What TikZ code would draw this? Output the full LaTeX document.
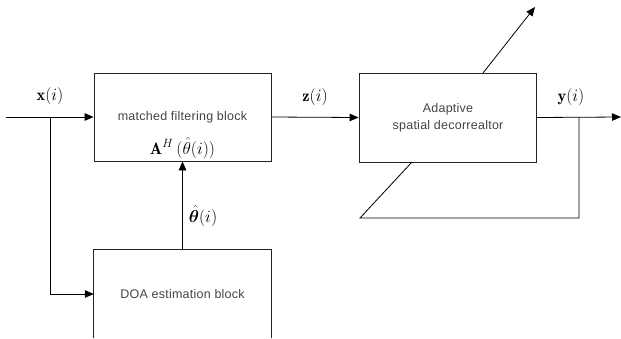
\documentclass[tikz,border=0pt]{standalone}
\usepackage{amsmath,bm}
\usepackage{fontspec}
\newfontfamily\labelsans[LetterSpace=2]{Liberation Sans}
\usetikzlibrary{arrows.meta}
\definecolor{txtgray}{HTML}{444444}
\definecolor{linegray}{HTML}{222222}
\tikzset{
  blk/.style={draw=linegray, line width=0.8pt, fill=white, minimum width=177pt, inner sep=0pt},
  btext/.style={font=\labelsans\fontsize{12.5}{16.5}\selectfont, text=txtgray, align=center},
  mlab/.style={font=\fontsize{16.5}{19}\selectfont, inner sep=0pt},
  conn/.style={line width=0.8pt, draw=black},
  arr/.style={conn, -{Triangle[length=9pt,width=7.5pt]}}
}
\begin{document}
\begin{tikzpicture}[x=1pt,y=-1pt]
\useasboundingbox (0,0) rectangle (621,338);
% blocks
\node[blk, minimum height=88pt] (mf) at (182.5,117) {};
\node[btext] (mft) at (182.5,117) {matched filtering block};
\node[mlab] (mfa) at (182.5,148) {$\mathbf{A}^{H}\,(\hat{\theta}(i))$};
\node[blk, minimum height=89pt] (ad) at (447.5,117.5) {};
\node[btext] (adt) at (448,118) {Adaptive\\spatial decorrealtor};
\node[btext, minimum width=177pt, minimum height=88pt, inner sep=0pt] (doa) at (182.5,294) {DOA estimation block};
\draw[conn, draw=linegray] (doa.south west) -- (doa.north west) -- (doa.north east) -- (doa.south east);
% coordinates
\coordinate (in) at (6,117);
\coordinate (br) at (50,117);
\coordinate (out) at (621,117);
\coordinate (fb) at (579,117);
\coordinate (d1) at (360,218);
\coordinate (dl) at (412,162);
\coordinate (du) at (483,73);
\coordinate (d2) at (535,7);
% connectors
\draw[arr] (in) -- (mf.west);
\draw[arr] (br) |- (doa.west);
\draw[arr] (doa.north) -- (mf.south);
\draw[arr] (mf.east) -- (ad.west);
\draw[arr] (ad.east) -- (out);
\draw[conn] (fb) |- (d1) -- (dl);
\draw[arr] (du) -- (d2);
% labels
\node[mlab] (lx) at (50,96) {$\mathbf{x}(i)$};
\node[mlab] (lz) at (315,97) {$\mathbf{z}(i)$};
\node[mlab] (ly) at (571,97) {$\mathbf{y}(i)$};
\node[mlab] (lt) at (203,216) {$\hat{\bm{\theta}}(i)$};
\end{tikzpicture}
\end{document}
